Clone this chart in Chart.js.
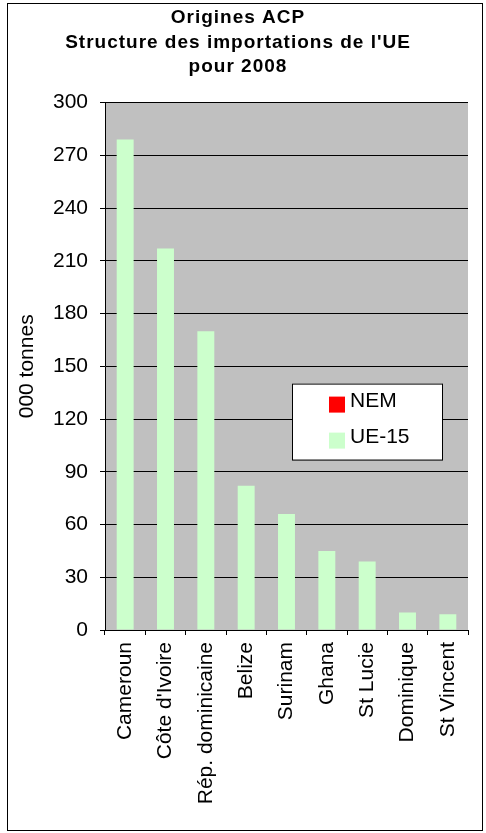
<!DOCTYPE html>
<html>
<head>
<meta charset="utf-8">
<script src="https://cdn.jsdelivr.net/npm/chart.js@4"></script>
<style>
    html, body { margin: 0; padding: 0; background: #fff; }
    #frame {
        position: absolute; left: 7px; top: 3px;
        width: 476px; height: 828px;
        border: 1px solid #000; box-sizing: border-box;
    }
</style>
</head>
<body>
<div id="frame"><canvas id="importChart"></canvas></div>
<script>
const categories = ["Cameroun", "Côte d'Ivoire", "Rép. dominicaine", "Belize", "Surinam", "Ghana", "St Lucie", "Dominique", "St Vincent"];
const ue15Values = [279, 217, 170, 82, 66, 45, 39, 10, 9];
const nemValues = [0, 0, 0, 0, 0, 0, 0, 0, 0];
const yTicks = [0, 30, 60, 90, 120, 150, 180, 210, 240, 270, 300];
const titleLines = ["Origines ACP", "Structure des importations de l'UE", "pour 2008"];

const FONT = "'Liberation Sans', Arial, sans-serif";

// plot background + legend box drawn inside the plot, like the Excel original
const plotBackground = {
    id: "plotBackground",
    beforeDraw(chart) {
        const { ctx, chartArea: a } = chart;
        ctx.save();
        ctx.fillStyle = "#C0C0C0";
        ctx.fillRect(a.left, a.top, a.right - a.left, a.bottom - a.top);
        ctx.restore();

        // Excel spaces the title letters a bit wider
        const tb = chart.titleBlock;
        if (tb && !tb._spaced) {
            const orig = tb.draw.bind(tb);
            tb.draw = function (...args) {
                chart.ctx.letterSpacing = "1px";
                orig(...args);
                chart.ctx.letterSpacing = "0px";
            };
            tb._spaced = true;
        }
    }
};

const insideLegend = {
    id: "insideLegend",
    afterDatasetsDraw(chart) {
        const { ctx, chartArea: a } = chart;
        const x = a.left + 187, y = a.top + 281, w = 150, h = 76;
        ctx.save();
        ctx.fillStyle = "#fff";
        ctx.fillRect(x, y, w, h);
        ctx.strokeStyle = "#000";
        ctx.lineWidth = 1;
        ctx.strokeRect(x + 0.5, y + 0.5, w, h);
        const items = chart.data.datasets.slice().reverse();
        ctx.font = "21px " + FONT;
        ctx.textBaseline = "middle";
        items.forEach((ds, i) => {
            const sy = y + 13 + i * 36;
            ctx.fillStyle = ds.backgroundColor;
            ctx.fillRect(x + 37, sy, 16, 16);
            ctx.fillStyle = "#000";
            ctx.fillText(ds.label, x + 58, sy + 5);
        });
        ctx.restore();
    }
};

const ctx = document.getElementById("importChart").getContext("2d");

new Chart(ctx, {
    type: "bar",
    data: {
        labels: categories,
        datasets: [
            { label: "UE-15", data: ue15Values, backgroundColor: "#CCFFCC", barPercentage: 0.42, categoryPercentage: 1 },
            { label: "NEM", data: nemValues, backgroundColor: "#FF0000", barPercentage: 0.42, categoryPercentage: 1 }
        ]
    },
    options: {
        responsive: true,
        maintainAspectRatio: false,
        animation: false,
        layout: { padding: { left: 0, right: 14, top: 0, bottom: 0 } },
        plugins: {
            legend: { display: false },
            tooltip: { enabled: false },
            title: {
                display: true,
                text: titleLines,
                color: "#000",
                font: { family: FONT, size: 19, weight: "bold", lineHeight: 1.3 },
                padding: { top: 1.5, bottom: 23 }
            }
        },
        scales: {
            x: {
                stacked: true,
                grid: { drawOnChartArea: false, drawTicks: true, tickLength: 5, color: "#000", offset: true },
                border: { color: "#000", width: 1 },
                ticks: {
                    color: "#000",
                    font: { family: FONT, size: 21 },
                    minRotation: 90, maxRotation: 90,
                    padding: 7, autoSkip: false
                },
                afterFit(scale) { scale.height = 200; }
            },
            y: {
                stacked: true,
                min: 0, max: 300,
                afterBuildTicks(scale) { scale.ticks = yTicks.map(v => ({ value: v })); },
                grid: { color: "#000", tickLength: 5 },
                border: { color: "#000", width: 1 },
                ticks: {
                    color: "#000",
                    font: { family: FONT, size: 21 },
                    padding: 12
                },
                title: {
                    display: true,
                    text: "000 tonnes",
                    color: "#000",
                    font: { family: FONT, size: 21 },
                    padding: { top: 7, bottom: 0 }
                },
                afterFit(scale) { scale.width = 97; }
            }
        }
    },
    plugins: [plotBackground, insideLegend]
});
</script>
</body>
</html>
